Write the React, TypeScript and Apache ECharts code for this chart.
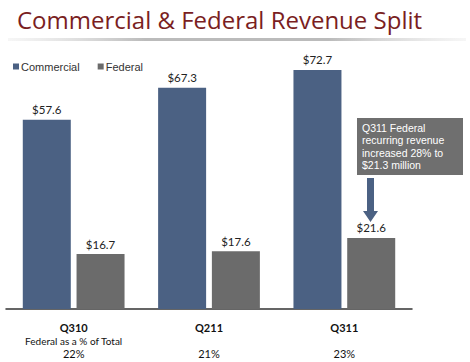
import React, { useEffect, useRef } from "react";
import * as echarts from "echarts";

const categories = ["Q310", "Q211", "Q311"];
const commercial = [57.6, 67.3, 72.7];
const federal = [16.7, 17.6, 21.6];
const federalPct = ["22%", "21%", "23%"];
const subCaption = "Federal as a % of Total";
const title = "Commercial & Federal Revenue Split";
const note = ["Q311 Federal", "recurring revenue", "increased 28% to", "$21.3 million"];

const BLUE = "#4b6183";
const GRAY = "#6b6b6b";

export default function App() {
  const ref = useRef<HTMLDivElement>(null);
  useEffect(() => {
    if (!ref.current) return;
    const chart = echarts.init(ref.current, undefined, { renderer: "svg" });
    const valueLabel = {
      show: true,
      position: "top",
      distance: 4,
      formatter: (p: any) => "$" + p.value.toFixed(1),
      fontFamily: "Lato",
      fontSize: 11.5,
      color: "#222",
    };
    const option: any = {
      animation: false,
      backgroundColor: "#ffffff",
      title: {
        text: title,
        left: 12,
        top: 2,
        textStyle: {
          color: "#7a1e22",
          fontFamily: "Open Sans",
          fontWeight: "normal",
          fontSize: 24,
        },
      },
      legend: {
        left: 8,
        top: 56,
        itemWidth: 6,
        itemHeight: 6,
        itemGap: 18,
        icon: "rect",
        textStyle: { fontFamily: "Liberation Sans", fontSize: 11, color: "#333", padding: [0, 0, 0, -3] },
        data: ["Commercial", "Federal"],
      },
      grid: { left: 6, width: 406, top: 46, bottom: 53, containLabel: false },
      xAxis: {
        type: "category",
        data: categories,
        axisLine: { lineStyle: { color: "#333", width: 1.5 } },
        axisTick: { show: false },
        axisLabel: {
          interval: 0,
          margin: 12,
          formatter: (v: string, i: number) =>
            "{b|" + v + "}\n" + (i === 0 ? "{c|" + subCaption + "}" : "{c| }") + "\n{n|" + federalPct[i] + "}",
          rich: {
            b: { fontFamily: "Lato", fontWeight: "bold", fontSize: 11, color: "#111", lineHeight: 13 },
            c: { fontFamily: "Lato", fontSize: 10, color: "#111", lineHeight: 13 },
            n: { fontFamily: "Lato", fontSize: 11, color: "#111", lineHeight: 12 },
          },
        },
      },
      yAxis: {
        type: "value",
        min: 0,
        max: 80,
        show: false,
        splitLine: { show: false },
      },
      series: [
        {
          name: "Commercial",
          type: "bar",
          data: commercial,
          barWidth: 48,
          barGap: "12%",
          itemStyle: { color: BLUE },
          label: valueLabel,
        },
        {
          name: "Federal",
          type: "bar",
          data: federal,
          barWidth: 48,
          itemStyle: { color: GRAY },
          label: valueLabel,
        },
      ],
      graphic: [
        {
          type: "rect",
          shape: { x: 8, y: 38, width: 458, height: 3 },
          style: {
            fill: new echarts.graphic.LinearGradient(0, 0, 1, 0, [
              { offset: 0, color: "rgba(210,210,210,0.2)" },
              { offset: 0.3, color: "rgba(170,170,170,0.8)" },
              { offset: 0.7, color: "rgba(170,170,170,0.8)" },
              { offset: 1, color: "rgba(210,210,210,0.2)" },
            ]),
          },
          silent: true,
        },
        {
          type: "rect",
          shape: { x: 357, y: 118, width: 106, height: 57 },
          style: { fill: "#6f6f6f" },
        },
        {
          type: "text",
          x: 362,
          y: 122,
          style: {
            text: note.join("\n"),
            fill: "#ffffff",
            fontFamily: "Liberation Sans",
            fontSize: 10.5,
            lineHeight: 12.3,
          },
        },
        {
          type: "polygon",
          shape: {
            points: [
              [367, 178],
              [374, 178],
              [374, 211],
              [378, 211],
              [370.5, 222],
              [363, 211],
              [367, 211],
            ],
          },
          style: { fill: BLUE },
        },
      ],
    };
    chart.setOption(option);
    return () => chart.dispose();
  }, []);
  return (
    <div
      ref={ref}
      style={{ position: "fixed", left: 0, top: 0, width: 470, height: 362 }}
    />
  );
}
